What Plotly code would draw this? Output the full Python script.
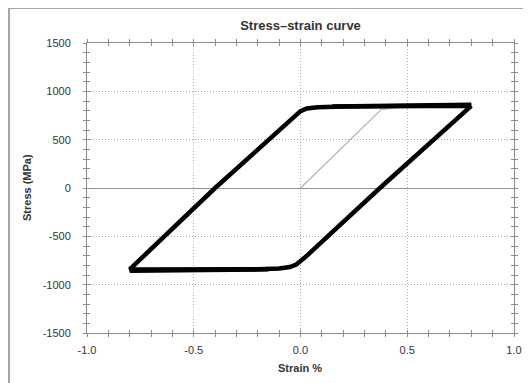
import plotly.graph_objects as go

# ---- data (strain in %, stress in MPa) ----
initial_strain = [0.0, 0.377, 0.46]
initial_stress = [0, 810, 835]

loop_strain = [0.8, 0.372, 0.02, 0.0, -0.02, -0.05, -0.1, -0.2, -0.8,
               -0.40, -0.02, 0.0, 0.03, 0.08, 0.2, 0.8, 0.8]
loop_stress = [850, 0, -720, -758, -792, -818, -832, -840, -842,
               0, 760, 795, 822, 836, 842, 846, 850]

cycle2_top_strain = [0.15, 0.8]
cycle2_top_stress = [843, 862]
cycle2_bot_strain = [-0.8, -0.15]
cycle2_bot_stress = [-856, -841]

x_ticks = [-1.0, -0.5, 0.0, 0.5, 1.0]
x_tick_labels = ["-1.0", "-0.5", "0.0", "0.5", "1.0"]
y_ticks = [-1500, -1000, -500, 0, 500, 1000, 1500]
y_tick_labels = ["-1500", "-1000", "-500", "0", "500", "1000", "1500"]

# ---- layout geometry (page pixels; page body has an 8px margin) ----
OFF = 8
PAGE_W, PAGE_H = 531, 383
W, H = PAGE_W - OFF, PAGE_H - OFF
L, R, T, B = 87, 514, 43, 333          # plot area in page pixels
pw, ph = R - L, B - T


def px(x):
    return (x - L) / pw


def py(y):
    return (B - y) / ph


fig = go.Figure()
fig.add_trace(go.Scatter(x=initial_strain, y=initial_stress, mode="lines",
                         line=dict(color="#b4b4b4", width=1.2), hoverinfo="skip"))
fig.add_trace(go.Scatter(x=loop_strain, y=loop_stress, mode="lines",
                         line=dict(color="black", width=4.5), hoverinfo="skip"))
fig.add_trace(go.Scatter(x=cycle2_top_strain, y=cycle2_top_stress, mode="lines",
                         line=dict(color="black", width=4.5), hoverinfo="skip"))
fig.add_trace(go.Scatter(x=cycle2_bot_strain, y=cycle2_bot_stress, mode="lines",
                         line=dict(color="black", width=4.5), hoverinfo="skip"))
fig.add_trace(go.Scatter(x=[None], y=[None], xaxis="x2", yaxis="y2", showlegend=False))

axis_col = "#8c8c8c"
font_col = "#333333"
grid_col = "#aaaaaa"
fnt = "Arial, Liberation Sans, sans-serif"

common = dict(showline=True, linecolor=axis_col, linewidth=1, mirror="allticks",
              tickcolor=axis_col, tickwidth=1, automargin=False)

fig.update_layout(
    width=W, height=H,
    margin=dict(l=L - OFF, r=PAGE_W - R, t=T - OFF, b=PAGE_H - B),
    paper_bgcolor="white", plot_bgcolor="white",
    showlegend=False,
    font=dict(family=fnt, size=11, color=font_col),
    xaxis=dict(range=[-1, 1], tickvals=x_ticks, ticktext=x_tick_labels,
               ticks="outside", ticklen=3,
               minor=dict(dtick=0.1, tick0=0, ticks="outside", ticklen=3,
                          tickcolor=axis_col, showgrid=False),
               showgrid=True, gridcolor=grid_col, griddash="1px,2px", gridwidth=1,
               zeroline=False, ticklabelstandoff=4,
               tickfont=dict(size=11, color=font_col), **common),
    yaxis=dict(range=[-1500, 1500], tickvals=y_ticks, ticktext=y_tick_labels,
               ticks="outside", ticklen=3,
               minor=dict(dtick=100, tick0=0, ticks="outside", ticklen=3,
                          tickcolor=axis_col, showgrid=False),
               showgrid=True, gridcolor=grid_col, griddash="1px,2px", gridwidth=1,
               zeroline=True, zerolinecolor="#909090", zerolinewidth=1,
               ticklabelstandoff=10,
               tickfont=dict(size=11, color=font_col), **common),
    xaxis2=dict(range=[-1, 1], overlaying="x", side="bottom", tickvals=x_ticks,
                showticklabels=False, ticks="inside", ticklen=3,
                minor=dict(dtick=0.1, tick0=0, ticks="inside", ticklen=3,
                           tickcolor=axis_col, showgrid=False),
                showgrid=False, zeroline=False, **common),
    yaxis2=dict(range=[-1500, 1500], overlaying="y", side="left", tickvals=y_ticks,
                showticklabels=False, ticks="inside", ticklen=3,
                minor=dict(dtick=100, tick0=0, ticks="inside", ticklen=3,
                           tickcolor=axis_col, showgrid=False),
                showgrid=False, zeroline=False, **common),
    title=dict(text="<b>Stress\u2013strain curve</b>", x=0.5, xref="paper",
               y=1 - (25 - OFF) / H, yref="container", yanchor="middle",
               font=dict(size=13, color=font_col, family=fnt)),
)

fig.add_annotation(text="<b>Stress (MPa)</b>", textangle=-90, showarrow=False,
                   xref="paper", yref="paper", x=px(27), y=py(188),
                   xanchor="center", yanchor="middle",
                   font=dict(size=11, color=font_col, family=fnt))
fig.add_annotation(text="<b>Strain %</b>", showarrow=False,
                   xref="paper", yref="paper", x=px(300), y=py(368),
                   xanchor="center", yanchor="middle",
                   font=dict(size=11, color=font_col, family=fnt))

# outer frame (partially cut by the image edge)
frame_col = "#a6a6a6"
fig.add_shape(type="line", xref="paper", yref="paper",
              x0=px(9), x1=px(9), y0=py(8), y1=py(400),
              line=dict(color=frame_col, width=2))
fig.add_shape(type="line", xref="paper", yref="paper",
              x0=px(9), x1=px(560), y0=py(8), y1=py(8),
              line=dict(color=frame_col, width=2))

fig.write_html("out.html")
